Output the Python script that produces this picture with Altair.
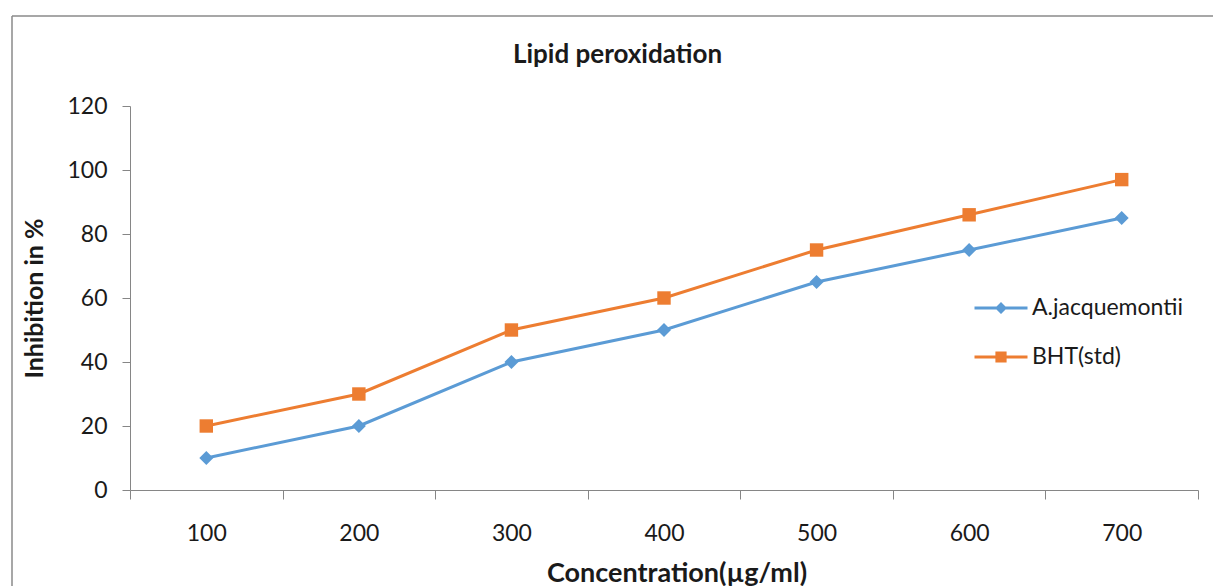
import altair as alt
import pandas as pd

concentration = [100, 200, 300, 400, 500, 600, 700]
series_names = ["A.jacquemontii", "BHT(std)"]
a_jacquemontii = [10, 20, 40, 50, 65, 75, 85]
bht_std = [20, 30, 50, 60, 75, 86, 97]
series_colors = ["#5B9BD5", "#ED7D31"]
x_tick_values = [50, 150, 250, 350, 450, 550, 650, 750]
y_tick_values = [0, 20, 40, 60, 80, 100, 120]

df = pd.DataFrame({
    "conc": concentration * 2,
    "value": a_jacquemontii + bht_std,
    "series": [series_names[0]] * len(concentration) + [series_names[1]] * len(concentration),
})
legend_df = pd.DataFrame({"series": series_names, "conc": [100, 100], "value": [-50, -50]})

TEXT = "#1a1a1a"
AXIS = "#868686"

x_enc = alt.X(
    "conc:Q",
    scale=alt.Scale(domain=[50, 750], nice=False, zero=False),
    axis=alt.Axis(
        values=x_tick_values,
        labelExpr="datum.value < 700 ? format(datum.value + 50, 'd') : ''",
        labelOffset=76.3,
        labelOverlap=False,
        labelFlush=False,
        labelBound=False,
        tickSize=9,
        labelPadding=23,
        title="Concentration(µg/ml)",
        titleX=546.5,
        titleY=91,
        titleBaseline="alphabetic",
        titleAlign="center",
        titleFontSize=27,
    ),
)
y_enc = alt.Y(
    "value:Q",
    scale=alt.Scale(domain=[0, 120], nice=False, zero=False),
    axis=alt.Axis(
        values=y_tick_values,
        tickSize=8,
        labelPadding=15,
        title="Inhibition in %",
        titleX=-88,
        titleY=192,
        titleAngle=270,
        titleBaseline="alphabetic",
        titleAlign="center",
    ),
)

base = alt.Chart(df)
layers = []
shapes = ["diamond", "square"]
sizes = [196, 180]
for name, col in zip(series_names, series_colors):
    sub = base.transform_filter(alt.datum.series == name)
    layers.append(sub.mark_line(color=col, strokeWidth=3).encode(x=x_enc, y=y_enc))
for name, col, shp, sz in zip(series_names, series_colors, shapes, sizes):
    sub = base.transform_filter(alt.datum.series == name)
    layers.append(sub.mark_point(shape=shp, filled=True, size=sz, color=col, opacity=1).encode(x=x_enc, y=y_enc))

legend_paths = [
    "M-1.325,-0.075H1.325V0.075H-1.325Z M0,-0.3L0.3,0L0,0.3L-0.3,0Z",
    "M-1.325,-0.075H1.325V0.075H-1.325Z M-0.28,-0.28H0.28V0.28H-0.28Z",
]
leg = alt.Legend(
    title=None, orient="none", legendX=851, legendY=182, symbolSize=1600,
    symbolStrokeWidth=0, labelFont="Lato", labelFontSize=23, labelColor=TEXT,
    labelOffset=11, rowPadding=17, padding=0,
)
legend_layer = alt.Chart(legend_df).mark_point(filled=True, clip=True, opacity=1).encode(
    x=x_enc, y=y_enc,
    color=alt.Color("series:N", scale=alt.Scale(domain=series_names, range=series_colors), legend=leg),
    shape=alt.Shape("series:N", scale=alt.Scale(domain=series_names, range=legend_paths), legend=leg),
)

one = pd.DataFrame({"a": [0]})
frame_v = alt.Chart(one).mark_rule(color="#8a8a8a", strokeWidth=1.5).encode(
    x=alt.value(-118), y=alt.value(-90), y2=alt.value(600))
frame_h = alt.Chart(one).mark_rule(color="#8a8a8a", strokeWidth=1.5).encode(
    x=alt.value(-118), x2=alt.value(1200), y=alt.value(-90))

chart = alt.layer(frame_v, frame_h, *layers, legend_layer).properties(
    width=1068,
    height=384,
    autosize=alt.AutoSizeParams(type="none"),
    padding={"left": 130, "top": 106, "right": 15, "bottom": 96},
    background="white",
    title=alt.TitleParams(
        "Lipid peroxidation", font="Lato", fontSize=26, fontWeight="bold", color=TEXT,
        anchor="middle", dx=-46.5, dy=78, baseline="alphabetic",
    ),
).configure_axis(
    labelFont="Lato", labelFontSize=23, labelColor=TEXT,
    titleFont="Lato", titleFontSize=25, titleFontWeight="bold", titleColor=TEXT,
    domainColor=AXIS, tickColor=AXIS, domainWidth=1, tickWidth=1, grid=False,
).configure_view(stroke=None)

chart.save("out.html", embed_options={"renderer": "svg", "actions": False})
